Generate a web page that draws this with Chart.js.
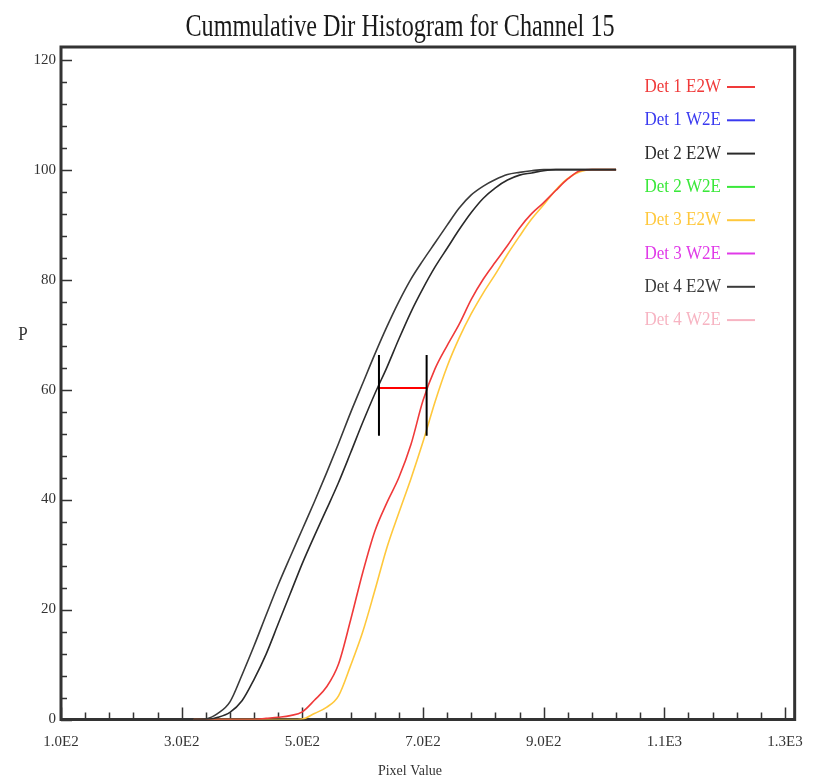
<!DOCTYPE html>
<html>
<head>
<meta charset="utf-8">
<script src="https://cdn.jsdelivr.net/npm/chart.js@4.4.0/dist/chart.umd.min.js"></script>
<style>
html,body{margin:0;padding:0;background:#ffffff;}
#wrap{width:817px;height:783px;position:relative;}
</style>
</head>
<body>
<div id="wrap"><canvas id="c" width="817" height="783"></canvas></div>
<script>
// ---- data ----
const pixelValues = [320,340,360,380,400,420,440,460,480,500,520,540,560,580,600,620,640,660,680,700,720,740,760,780,800,820,840,860,880,900,920,940,960,980,1000,1020];

const det1E2W = [0,0,0,0,0,0,0.2,0.4,0.7,1.4,3.5,5.9,10.1,18.1,26.7,34.2,39.4,44.0,50.0,58.0,63.8,68.0,71.9,76.4,80.1,83.2,86.2,89.4,92.0,94.0,96.2,98.3,99.8,100,100,100];
const det1W2E = [];
const det2E2W = [0,0,0.4,1.3,3.4,7.3,11.9,17.4,22.9,28.4,33.4,38.2,43.1,48.5,54.0,59.2,64.0,69.2,74.1,78.4,82.3,85.7,89.1,92.2,94.8,96.7,98.1,99.0,99.4,99.8,100,100,100,100,100,100];
const det2W2E = [];
const det3E2W = [0,0,0,0,0,0,0,0,0,0.1,1.1,2.2,4.3,9.8,15.9,23.4,31.2,37.6,43.8,50.5,57.8,64.2,69.4,73.8,77.6,81.0,84.6,87.9,91.0,93.6,96.3,98.4,99.6,100,100,100];
const det3W2E = [];
const det4E2W = [0,0.1,1.1,3.2,8.1,13.4,19.0,24.5,29.6,34.6,39.6,44.8,50.2,55.8,61.1,66.4,71.4,76.0,80.1,83.5,86.7,89.9,93.0,95.4,97.0,98.2,99.1,99.5,99.8,100,100,100,100,100,100,100];
const det4W2E = [];

const seriesNames = ['Det 1 E2W','Det 1 W2E','Det 2 E2W','Det 2 W2E','Det 3 E2W','Det 3 W2E','Det 4 E2W','Det 4 W2E'];
const seriesValues = [det1E2W, det1W2E, det2E2W, det2W2E, det3E2W, det3W2E, det4E2W, det4W2E];
const seriesColors = ['#f03a3a','#3a3af0','#2a2a2a','#3ae83a','#ffc83c','#e03ae8','#3a3a3a','#f7b4c2'];
const seriesOrder = [1, 3, -1, 3, 2, 3, -1, 3];

const xTickValues = [100,300,500,700,900,1100,1300];
const yTickValues = [0,20,40,60,80,100,120];

// 60% separation marker
const markerX = [627, 706];
const markerYRange = [51.6, 66.3];
const markerLevel = 60.3;

const titleText = 'Cummulative Dir Histogram for Channel 15';
const xTitleText = 'Pixel Value';
const yTitleText = 'P';

// ---- build datasets ----
const datasets = seriesNames.map((name, i) => ({
  label: name,
  data: seriesValues[i].map((v, k) => ({x: pixelValues[k], y: v})),
  borderColor: seriesColors[i],
  backgroundColor: seriesColors[i],
  borderWidth: 1.6,
  pointRadius: 0,
  fill: false,
  cubicInterpolationMode: 'monotone',
  order: seriesOrder[i],
  isSeries: true
}));
markerX.forEach(mx => {
  datasets.push({
    label: 'marker',
    data: [{x: mx, y: markerYRange[0]}, {x: mx, y: markerYRange[1]}],
    borderColor: '#000000', borderWidth: 2, pointRadius: 0, order: -3, isSeries: false
  });
});
datasets.push({
  label: 'marker',
  data: [{x: markerX[0], y: markerLevel}, {x: markerX[1], y: markerLevel}],
  borderColor: '#ff0000', borderWidth: 2, pointRadius: 0, order: -2, isSeries: false
});

const SERIF = '"Liberation Serif", "Times New Roman", serif';

function stretchedText(ctx, text, x, y, font, color, align, sx, sy) {
  ctx.save();
  ctx.font = font;
  ctx.fillStyle = color;
  ctx.textAlign = align;
  ctx.textBaseline = 'middle';
  ctx.translate(x, y);
  ctx.scale(sx, sy);
  ctx.fillText(text, 0, 0);
  ctx.restore();
}

const decorPlugin = {
  id: 'decor',
  beforeDatasetsDraw(chart) {
    const {ctx, chartArea: a, scales: {x, y}} = chart;
    ctx.save();
    ctx.strokeStyle = '#333333';
    ctx.lineWidth = 1.5;
    ctx.beginPath();
    for (let v = 0; v <= 120; v += 4) {
      const py = Math.round(y.getPixelForValue(v)) + 0.5;
      const len = (v % 20 === 0) ? 11 : 6;
      ctx.moveTo(a.left, py); ctx.lineTo(a.left + len, py);
    }
    for (let v = 100; v <= 1300; v += 40) {
      const px = Math.round(x.getPixelForValue(v)) + 0.5;
      const len = ((v - 100) % 200 === 0) ? 12 : 7;
      ctx.moveTo(px, a.bottom); ctx.lineTo(px, a.bottom - len);
    }
    ctx.stroke();
    ctx.lineWidth = 3;
    ctx.strokeStyle = '#333333';
    ctx.strokeRect(a.left, a.top, a.right - a.left, a.bottom - a.top);
    ctx.restore();
  },
  afterDraw(chart) {
    const {ctx} = chart;
    stretchedText(ctx, titleText, 400, 28, '26px ' + SERIF, '#1a1a1a', 'center', 0.93, 1.2);
    stretchedText(ctx, yTitleText, 23, 335, '17px ' + SERIF, '#333333', 'center', 1, 1.1);
    stretchedText(ctx, xTitleText, 410, 771, '14px ' + SERIF, '#333333', 'center', 1, 1.1);
    // legend
    let row = 0;
    chart.data.datasets.forEach(ds => {
      if (!ds.isSeries) return;
      const cy = 87 + row * 33.3;
      stretchedText(ctx, ds.label, 721, cy, '17px ' + SERIF, ds.borderColor, 'right', 1, 1.15);
      ctx.save();
      ctx.strokeStyle = ds.borderColor;
      ctx.lineWidth = 2;
      ctx.beginPath();
      ctx.moveTo(727, cy); ctx.lineTo(755, cy);
      ctx.stroke();
      ctx.restore();
      row++;
    });
  }
};

new Chart(document.getElementById('c'), {
  type: 'line',
  data: { datasets },
  options: {
    responsive: false,
    animation: false,
    devicePixelRatio: 1,
    layout: { padding: { top: 47, right: 21, bottom: 0, left: 0 } },
    plugins: { legend: { display: false }, title: { display: false }, tooltip: { enabled: false } },
    scales: {
      x: {
        type: 'linear', min: 100, max: 1316,
        afterBuildTicks: s => { s.ticks = xTickValues.map(v => ({value: v})); },
        afterFit: s => { s.height = 63.5; },
        ticks: {
          autoSkip: false, maxRotation: 0, padding: 14, color: '#333333',
          font: { family: SERIF, size: 15 },
          callback: v => v.toExponential(1).toUpperCase().replace('+', '')
        },
        grid: { display: false, drawTicks: false },
        border: { display: false }
      },
      y: {
        type: 'linear', min: 0, max: 122.3,
        afterBuildTicks: s => { s.ticks = yTickValues.map(v => ({value: v})); },
        afterFit: s => { s.width = 61; },
        ticks: { padding: 5, color: '#333333', font: { family: SERIF, size: 15 } },
        grid: { display: false, drawTicks: false },
        border: { display: false }
      }
    }
  },
  plugins: [decorPlugin]
});
</script>
</body>
</html>
